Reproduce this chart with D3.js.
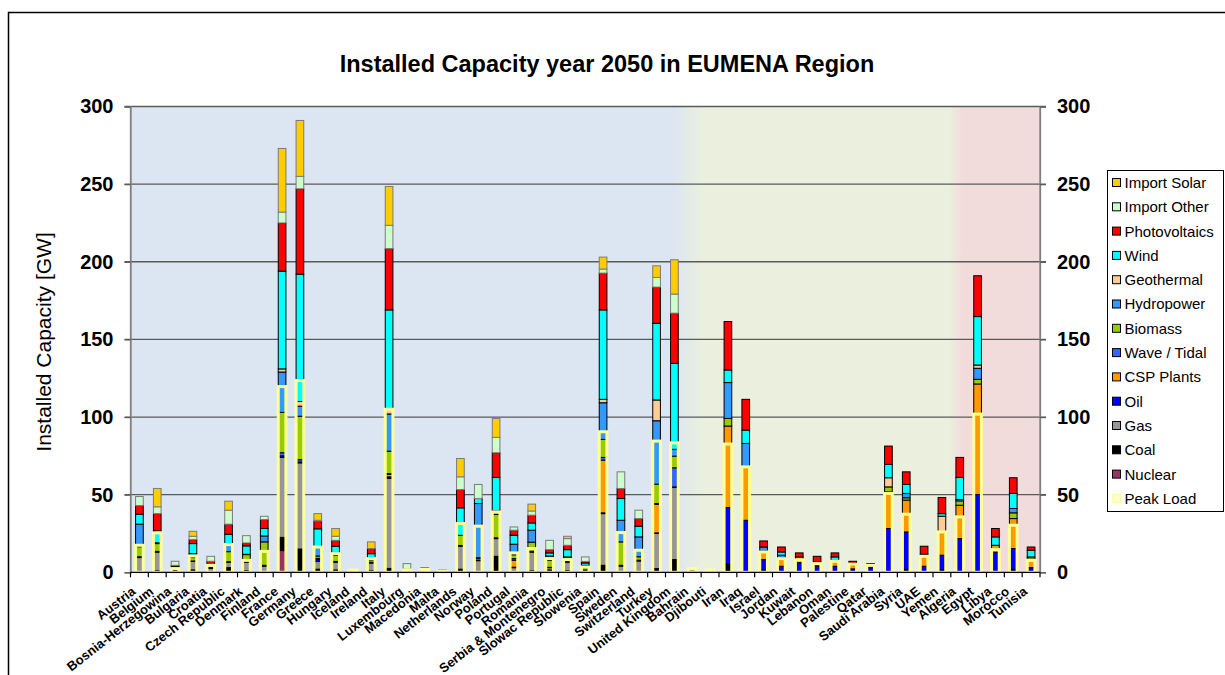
<!DOCTYPE html>
<html><head><meta charset="utf-8">
<script src="https://cdn.jsdelivr.net/npm/d3@7"></script>
<style>
html,body{margin:0;padding:0;background:#fff;}
text{font-family:"Liberation Sans",Arial,sans-serif;}
</style></head>
<body><svg id="c" width="1225" height="675"></svg>
<script>
const categories = ["Austria","Belgium","Bosnia-Herzegowina","Bulgaria","Croatia","Czech Republic","Denmark","Finland","France","Germany","Greece","Hungary","Iceland","Ireland","Italy","Luxembourg","Macedonia","Malta","Netherlands","Norway","Poland","Portugal","Romania","Serbia & Montenegro","Slowac Republic","Slowenia","Spain","Sweden","Switzerland","Turkey","United Kingdom","Bahrain","Djibouti","Iran","Iraq","Israel","Jordan","Kuwait","Lebanon","Oman","Palestine","Qatar","Saudi Arabia","Syria","UAE","Yemen","Algeria","Egypt","Libya","Morocco","Tunisia"];

const nuclear     = [0,0,0,0,0,0,0,0,14,0,0,0,0,0,0,0,0,0,0,0,0,0,0,0,0,0,0,0,0,0,0, 0,0,0,0,0,0,0,0,0,0,0,0,0,0,0, 0,0,0,0,0];
const coal        = [0.5,1,1,1.5,0.5,3,1,0.5,8.5,15,2,1.5,0,1,2.5,0,0.8,0,2,0.2,10.3,0.5,1,1.5,1,0.5,4.5,0.3,0.3,2.4,8.2, 0,0,5.6,0,1.3,0,0,0,0,0,0,0,2,0,1.5, 0,0,0,2,0.5];
const gas         = [9,12,1.2,5.5,2,3.5,5.5,3.5,51.5,55.5,5,5,0,5,58,1,0.7,0.8,14.8,7.3,11.4,2.5,12,1.5,5.5,1,33.3,3.7,7,22.6,46.4, 2.5,0,0,0,0,0,0,0,0,0,0,0,0,0,0, 0,0,0,0,0];
const oil         = [0.5,0.5,0,0.3,0,0.3,0.5,0.5,1,0.5,1.5,0.5,0,0.5,1,0,0,0.3,0.5,0.2,0.5,0.3,0.5,0.2,0.5,0,0.5,0.5,0.5,0.4,0.4, 0.3,1,36.1,33.5,6.9,3.9,6.2,4,3.9,2.2,3,28.2,24,3.9,9.5, 21.7,50.1,13,13.3,2.5];
const csp         = [0,0,0,0,0,0,0,0,0,0,0.5,0,0,0,1.5,0,0,0,0,0,0,4.5,0,0,0,0,34,0,0,18.3,0, 0,0,52.5,34.5,5.6,5.7,3.7,0.8,3.8,2.6,1.2,23.6,20.5,7.7,15, 21.5,71.2,4.4,19.3,5.5];
const wave        = [0,0,0,0,0,0,0.9,0,2,1.5,0,0,0,0,0.5,0,0,0,0,1.2,0,1,0,0,0,0,1.7,0,0,0.6,12.3, 0,0,0,0,0,0,0,0,0,0,0,0,0,0,0, 0,0,0,0,0];
const biomass     = [6.5,5,0,2.2,0.5,6.5,3.5,15.1,26,28,1.5,4,0,1.5,14.5,0,0,0,6.5,0.5,15,2.5,5.9,4.5,1,1.5,11.6,15.1,2.2,12.5,7.5, 0,0,4.9,0,0,0,0,0,0,0,0,3.2,1.5,0,0, 2.8,3,0,3.7,1.4];
const hydro       = [14.5,0.5,1,2.5,1.5,5.2,0.2,3.8,26,6.5,5.5,1,1.2,0.5,24,0,0.5,0,0,34.9,2.4,6.8,7.7,2.8,1.9,1.5,23.6,13.9,12.8,40.8,4.4, 0,0,23.1,15,2.5,1.4,0,1.2,0,0,0,0,2.8,0,0, 0.9,7.1,0,2.8,0];
const geothermal  = [0,0,0,0,0,0,0,0,2,3,0,0,0.6,0,3.5,0,0,0,0,0,0,0,0,0,0,0,2.2,0,0,13.4,0, 0,0.5,0,0,0,0,0,0,0,0,0,5.9,0,0,10.1, 0,2.1,0,0,0];
const wind        = [6.4,7.7,0.4,6.5,0.7,6,5.4,4.8,63,82,12,4.8,0,3.5,63.5,0.5,0.3,0,17.7,3.2,21.5,5.8,4.7,2,4.7,1.5,57.6,14,6.9,49.4,55.4, 0,0,8.1,8.6,0,2.1,0,0.5,2.2,0.4,0.6,8.6,5.8,0,1.7, 14.2,31.2,5.4,9.7,4.3];
const photovoltaics=[5.6,11.1,0.9,2.6,1.9,6.5,1.9,5.8,31,55,5,3.8,0,3.3,39.5,0.5,0.3,0.3,11.8,0,15.9,3.2,5,2.1,2.8,1,23.7,6.5,4.9,23.3,32.3, 0.2,0.3,31.2,19.8,3.9,3.2,2.6,3.8,2.6,1.9,0.8,11.8,8.1,5.2,10.4, 12.9,26.3,5.4,10.1,2.1];
const importOther = [5.8,4.4,2.6,2.1,3.2,9,4.7,2.1,7,8,0.5,2.6,0,0,15,3.6,0.4,0.2,8.2,9.1,9.9,2.1,2.7,6,4.3,2.9,2.6,10.7,5.4,6.2,12.3, 0,0,0,0,0,0,0,0,0,0,0,0,0,0,0, 0,0,0,0,0];
const importSolar = [0,11.8,0,3.2,0,5.8,0,0,41,36,4.3,5,0,4.3,25,0,0,0,11.8,0,12.2,0,4.4,0,1.5,0,7.7,0,0,7.5,22.1, 0,0,0,0,0,0,0,0,0,0,0,0,0,0,0, 0,0,0,0,0];
const peakLoad    = [17.4,25.4,2.4,10.5,4.5,17.9,7.7,13.5,119.6,123.5,16.3,12,1.5,8.8,105,1.5,1.8,0.8,31.4,29.7,38.9,12.5,15.3,8.8,8.2,3.4,90.5,25.6,14.2,84.5,83.4, 2.5,1.5,82.6,67.9,13.1,8.8,8,5.6,7.1,5.2,4.5,50.8,37.4,10.3,26, 35.7,101.9,14.6,30.3,7.7];

const seriesNames = ["Nuclear","Coal","Gas","Oil","CSP Plants","Wave / Tidal","Biomass","Hydropower","Geothermal","Wind","Photovoltaics","Import Other","Import Solar"];
const seriesValues = [nuclear,coal,gas,oil,csp,wave,biomass,hydro,geothermal,wind,photovoltaics,importOther,importSolar];
const seriesColors = ["#993366","#000000","#969696","#0000ff","#ff9900","#3366ff","#99cc00","#3399ff","#ffcc99","#00ffff","#ff0000","#ccffcc","#ffcc00"];
const yTicks = [0,50,100,150,200,250,300];
const titleText = "Installed Capacity year 2050 in EUMENA Region";
const yTitle = "Installed Capacity [GW]";

const svg = d3.select("#c");
const L = 130.5, R = 1040, T = 106.5, B = 572.3;
const FONT = '"Liberation Sans",Arial,sans-serif';

// frame
svg.append("rect").attr("x",8.5).attr("y",12.5).attr("width",1400).attr("height",800)
  .attr("fill","#fff").attr("stroke","#000").attr("stroke-width",1.5);

const x = d3.scaleBand().domain(categories).range([L,R]).paddingInner(0.57).paddingOuter(0.285);
const y = d3.scaleLinear().domain([0,300]).range([B,T]);

// background gradient
const defs = svg.append("defs");
const g = defs.append("linearGradient").attr("id","bg").attr("x1","0").attr("x2","1").attr("y1","0").attr("y2","0");
[[0,"#dce6f2"],[0.597,"#dce6f2"],[0.63,"#ebf0de"],[0.9,"#ebf0de"],[0.914,"#f2dcdb"],[1,"#f2dcdb"]]
  .forEach(s=>g.append("stop").attr("offset",s[0]).attr("stop-color",s[1]));
svg.append("rect").attr("x",L).attr("y",T).attr("width",R-L).attr("height",B-T).attr("fill","url(#bg)");

// gridlines
svg.append("g").selectAll("line").data(yTicks.filter(v=>v>0)).join("line")
  .attr("x1",L-6).attr("x2",R+6).attr("y1",d=>y(d)).attr("y2",d=>y(d))
  .attr("stroke","#5a5a5a").attr("stroke-width",1.3);

// plot borders left/right
svg.append("line").attr("x1",L).attr("x2",L).attr("y1",T).attr("y2",B).attr("stroke","#808080").attr("stroke-width",1.3);
svg.append("line").attr("x1",R).attr("x2",R).attr("y1",T).attr("y2",B).attr("stroke","#808080").attr("stroke-width",1.3);

// stacked data
const table = categories.map((c,i)=>{const o={cat:c}; seriesNames.forEach((s,k)=>o[s]=seriesValues[k][i]); return o;});
const stacked = d3.stack().keys(seriesNames)(table);

const bars = svg.append("g");
stacked.forEach((layer,k)=>{
  const light = seriesNames[k]==="Import Other"||seriesNames[k]==="Import Solar";
  bars.append("g").selectAll("rect").data(layer.filter(d=>d[1]-d[0]>0)).join("rect")
    .attr("x",d=>x(d.data.cat)).attr("width",x.bandwidth())
    .attr("y",d=>y(d[1])).attr("height",d=>y(d[0])-y(d[1]))
    .attr("fill",seriesColors[k])
    .attr("stroke",light?"#7a7a7a":"#000").attr("stroke-width",1);
});

// peak load outline
svg.append("g").selectAll("rect").data(categories).join("rect")
  .attr("x",(c)=>x(c)).attr("width",x.bandwidth())
  .attr("y",(c,i)=>y(peakLoad[i])).attr("height",(c,i)=>y(0)-y(peakLoad[i]))
  .attr("fill","none").attr("stroke","#ffff99").attr("stroke-width",3);

// axes
const fmt = d3.format("d");
const la = svg.append("g").attr("transform",`translate(${L},0)`)
  .call(d3.axisLeft(y).tickValues(yTicks).tickSize(6).tickPadding(11).tickFormat(fmt));
const ra = svg.append("g").attr("transform",`translate(${R},0)`)
  .call(d3.axisRight(y).tickValues(yTicks).tickSize(6).tickPadding(11).tickFormat(fmt));
[la,ra].forEach(a=>{
  a.select(".domain").attr("stroke","#808080").attr("stroke-width",1.3);
  a.selectAll(".tick line").attr("stroke","#5a5a5a").attr("stroke-width",1.3);
  a.selectAll("text").attr("font-size",20).attr("font-weight","bold").attr("fill","#000")
    .style("font-family",FONT);
});

// bottom axis line
svg.append("line").attr("x1",L).attr("x2",R).attr("y1",B).attr("y2",B).attr("stroke","#000").attr("stroke-width",1.3);
const half = (x.step()-x.bandwidth())/2;
const bounds = categories.map(c=>x(c)-half).concat([x(categories[categories.length-1])+x.bandwidth()+half]);
svg.append("g").selectAll("line").data(bounds).join("line")
  .attr("x1",d=>d).attr("x2",d=>d).attr("y1",B).attr("y2",B+5).attr("stroke","#000").attr("stroke-width",1.2);

// x labels
svg.append("g").selectAll("text").data(categories).join("text")
  .attr("transform",c=>`translate(${x(c)+x.bandwidth()/2-3},593) rotate(-38)`)
  .attr("text-anchor","end").attr("font-size",13).attr("font-weight","bold").text(c=>c);

// titles
svg.append("text").attr("x",607).attr("y",72).attr("text-anchor","middle")
  .attr("font-size",23.5).attr("font-weight","bold").text(titleText);
svg.append("text").attr("transform","translate(51,342) rotate(-90)").attr("text-anchor","middle")
  .attr("font-size",21).text(yTitle);

// legend
const legItems = seriesNames.map((s,k)=>({name:s,color:seriesColors[k]})).reverse()
  .concat([{name:"Peak Load",color:"#ffffcc",peak:true}]);
const lg = svg.append("g");
lg.append("rect").attr("x",1107.5).attr("y",170.5).attr("width",116).attr("height",341)
  .attr("fill","#fff").attr("stroke","#000").attr("stroke-width",1);
const li = lg.selectAll("g").data(legItems).join("g")
  .attr("transform",(d,i)=>`translate(1112,${182.5+i*24.3})`);
li.append("rect").attr("x",0.5).attr("y",-4).attr("width",8).attr("height",8)
  .attr("fill",d=>d.color).attr("stroke",d=>d.peak?"#ffff99":"#000").attr("stroke-width",1);
li.append("text").attr("x",12.5).attr("y",0).attr("dy","0.36em").attr("font-size",15).text(d=>d.name);
</script></body></html>
